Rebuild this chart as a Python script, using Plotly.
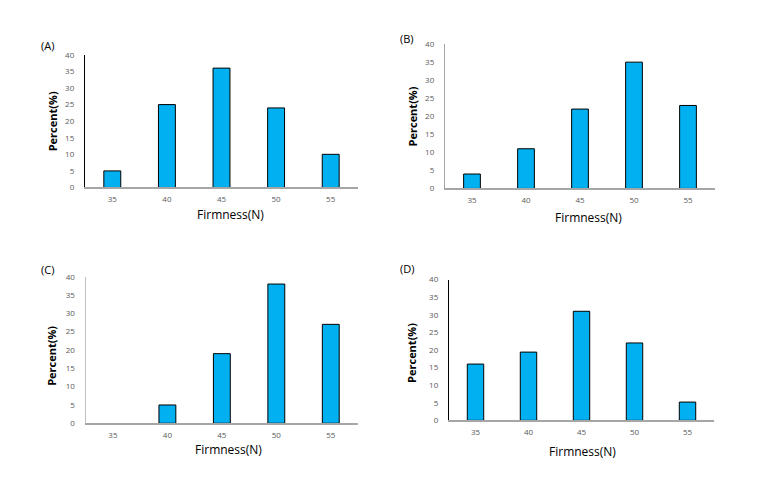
import plotly.graph_objects as go

categories = ["35", "40", "45", "50", "55"]
values_a = [5, 25, 36, 24, 10]
values_b = [4, 11, 22, 35, 23]
values_c = [0, 5, 19, 38, 27]
values_d = [16, 19.4, 31, 22, 5.2]
panel_labels = ["(A)", "(B)", "(C)", "(D)"]
y_ticks = [0, 5, 10, 15, 20, 25, 30, 35, 40]

W, H = 773, 484
BAR = "#00B0F0"
FONT = "Open Sans"

panels = [
    dict(v=values_a, x=(85, 358), y=(50, 185.7), ycol="#000000", yt=(52, 118), xt=(230, 213), lab=(47, 40)),
    dict(v=values_b, x=(445, 715), y=(39, 186.7), ycol="#A6A6A6", yt=(412, 113), xt=(588, 216), lab=(407, 33)),
    dict(v=values_c, x=(85.7, 358), y=(277, 427), ycol="#BFBFBF", yt=(52, 358), xt=(228, 454), lab=(47, 270)),
    dict(v=values_d, x=(449, 714), y=(280, 424), ycol="#000000", yt=(412, 355), xt=(582, 456), lab=(407, 269)),
]

fig = go.Figure()
annotations = []
for i, p in enumerate(panels):
    n = "" if i == 0 else str(i + 1)
    fig.add_trace(go.Bar(
        x=categories, y=p["v"], width=0.31,
        marker=dict(color=BAR, line=dict(color="#000000",
                                         width=[0 if v == 0 else 1 for v in p["v"]])),
        xaxis="x" + n, yaxis="y" + n, showlegend=False,
    ))
    xd = [p["x"][0] / W, p["x"][1] / W]
    yd = [1 - p["y"][1] / H, 1 - p["y"][0] / H]
    fig.update_layout(**{
        "xaxis" + n: dict(
            domain=xd, anchor="y" + n, type="category", range=[-0.5, 4.5],
            showline=True, linecolor="#A6A6A6", linewidth=2, showgrid=False,
            ticks="", ticklabelstandoff=3,
            tickfont=dict(family=FONT, size=8, color="#595959"),
        ),
        "yaxis" + n: dict(
            domain=yd, anchor="x" + n, range=[0, 40], tickvals=y_ticks,
            showline=True, linecolor=p["ycol"], linewidth=1.3, showgrid=False,
            zeroline=False, ticks="", ticklabelstandoff=8,
            tickfont=dict(family=FONT, size=8, color="#595959"),
        ),
    })
    annotations.append(dict(
        text="<b>Percent(%)</b>", x=p["yt"][0] / W, y=1 - p["yt"][1] / H,
        xref="paper", yref="paper", textangle=-90, showarrow=False,
        font=dict(family=FONT, size=11, color="#000000"),
        xanchor="center", yanchor="middle",
    ))
    annotations.append(dict(
        text="Firmness(N)", x=p["xt"][0] / W, y=1 - p["xt"][1] / H,
        xref="paper", yref="paper", showarrow=False,
        font=dict(family=FONT, size=12, color="#000000"),
        xanchor="center", yanchor="middle",
    ))
    annotations.append(dict(
        text=panel_labels[i], x=p["lab"][0] / W, y=1 - p["lab"][1] / H,
        xref="paper", yref="paper", showarrow=False,
        font=dict(family=FONT, size=11, color="#000000"),
        xanchor="center", yanchor="middle",
    ))

fig.update_layout(
    width=W, height=H, margin=dict(l=0, r=0, t=0, b=0),
    paper_bgcolor="white", plot_bgcolor="white",
    annotations=annotations, bargap=0.6,
)
fig.write_html("out.html")
